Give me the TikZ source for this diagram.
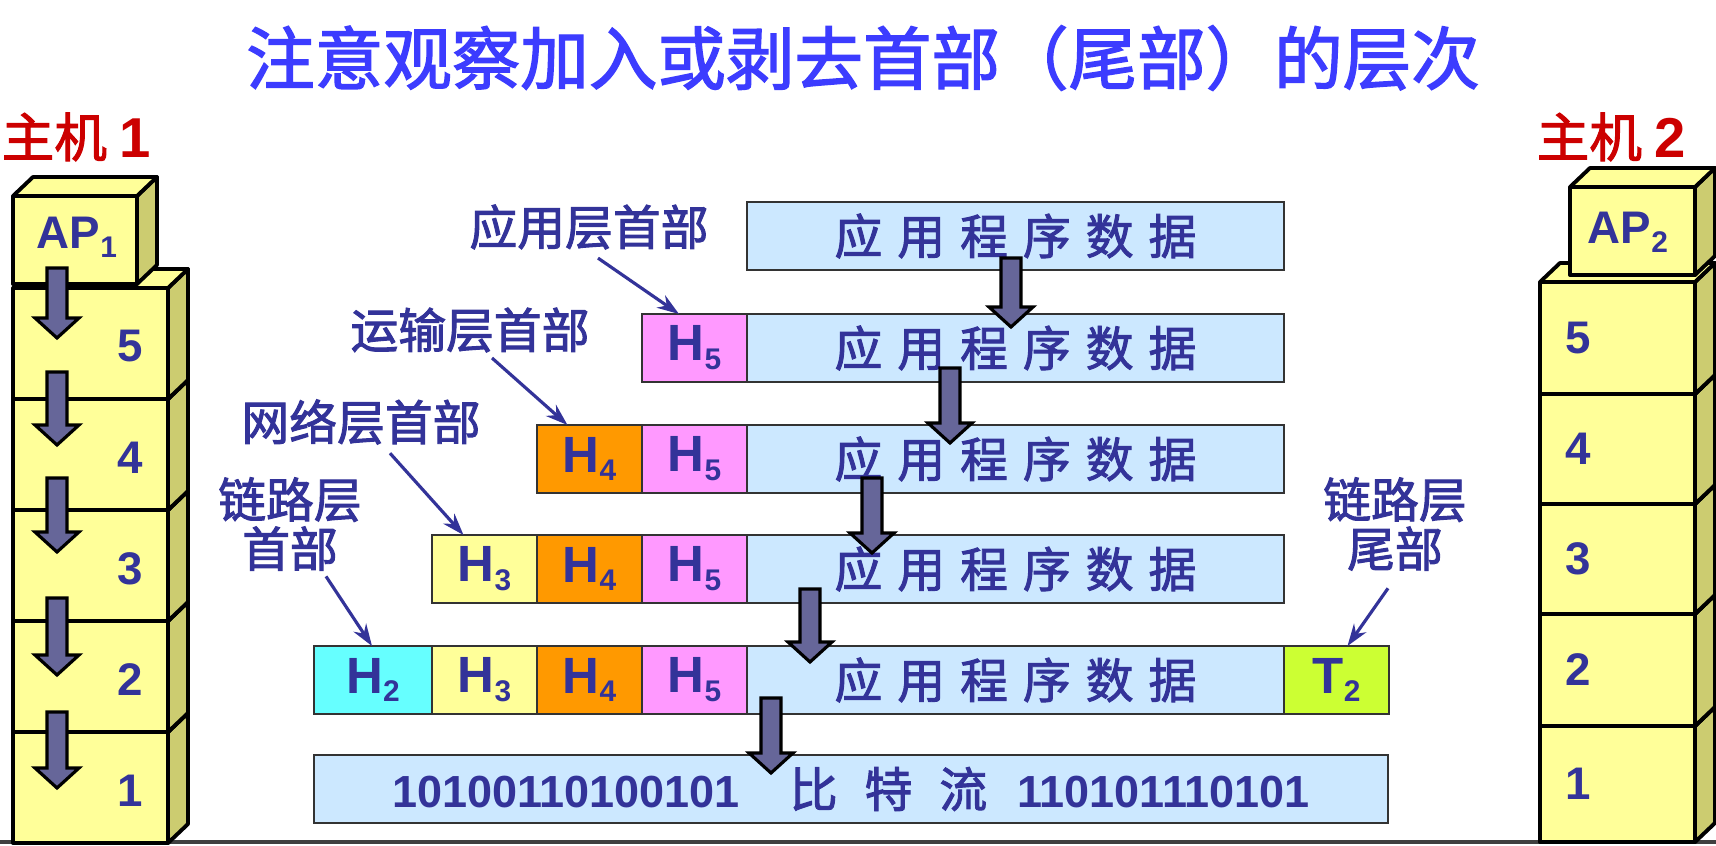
\documentclass[tikz,border=0pt]{standalone}
\usepackage{fontspec}
\setmainfont{Liberation Sans}
\newfontfamily\cjk{Noto Sans CJK SC}[AutoFakeBold=2]
\usetikzlibrary{positioning}
\usetikzlibrary{arrows.meta}
\pgfkeys{/tikz/>=Stealth}

\definecolor{txtblue}{HTML}{333399}
\definecolor{titleblue}{HTML}{3C3CFF}
\definecolor{hostred}{HTML}{CC0000}
\definecolor{arrowfill}{HTML}{666699}
\definecolor{boxyellow}{HTML}{FFFF99}
\definecolor{sideyellow}{HTML}{CCCC70}
\definecolor{datablue}{HTML}{CCE8FF}
\definecolor{hfivepink}{HTML}{FF99FF}
\definecolor{hfourorange}{HTML}{FF9900}
\definecolor{hthreeyellow}{HTML}{FFFF99}
\definecolor{htwocyan}{HTML}{66FFFF}
\definecolor{ttwogreen}{HTML}{CCFF33}

% header name with its layer number set low
\newcommand{\hdr}[2]{#1\raisebox{-2.5pt}{\fontsize{8.5pt}{9pt}\selectfont #2}}
\newcommand{\appdata}{{\cjk 应\hspace{.15cm}用\hspace{.15cm}程\hspace{.15cm}序\hspace{.15cm}数\hspace{.15cm}据}}

\tikzset{
  boxfront/.style={fill=boxyellow, draw=black, line width=1.1pt, line join=round},
  boxside/.style={fill=sideyellow, draw=black, line width=1.1pt, line join=round},
  layernum/.style={text=txtblue, font=\fontsize{13pt}{15pt}\selectfont\bfseries},
  blockarrow/.style={fill=arrowfill, draw=black, line width=0.9pt},
  lblarrow/.style={-{Stealth[length=0.22cm,width=0.15cm]}, draw=txtblue, line width=0.9pt},
}

\begin{document}
\begin{tikzpicture}[>=Stealth,
    cell/.style={draw=black!80, line width=0.8pt, inner sep=0pt, outer sep=0pt,
      minimum height=0.68cm, minimum width=1.05cm, text=txtblue,
      font=\fontsize{14.5pt}{18pt}\selectfont\bfseries},
    data/.style={cell, fill=datablue, minimum width=5.37cm,
      font=\fontsize{13.6pt}{16pt}\selectfont\bfseries},
    lbl/.style={text=txtblue, inner sep=0pt, align=center,
      font=\fontsize{13.6pt}{14pt}\selectfont\bfseries\cjk}]
  \fill[white] (0,0) rectangle (17.16,8.45);
  \useasboundingbox (0,0) rectangle (17.16,8.45);

  % title and host names
  \node[text=titleblue, font=\fontsize{19.5pt}{22pt}\selectfont\bfseries\cjk] (title) at (8.63,7.87)
    {注意观察加入或剥去首部（尾部）的层次};
  \node[text=hostred, font=\fontsize{15pt}{17pt}\selectfont\bfseries] (host1) at (0.76,7.08) {{\cjk 主机}\hspace{.12cm}\fontsize{16pt}{17pt}\selectfont 1};
  \node[text=hostred, font=\fontsize{15pt}{17pt}\selectfont\bfseries] (host2) at (16.11,7.08) {{\cjk 主机}\hspace{.12cm}\fontsize{16pt}{17pt}\selectfont 2};

  % ground line
  \draw[black!75, line width=1.2pt] (0,0.03) -- (17.16,0.03);

  % host 1: layers from the bottom up
  \foreach \lo/\hi [count=\n] in {0.02/1.13, 1.13/2.24, 2.24/3.35, 3.35/4.46, 4.46/5.57} {
    \draw[boxside] (1.68,\lo) -- (1.88,\lo+0.19) -- (1.88,\hi+0.19) -- (1.68,\hi) -- cycle;
    \draw[boxfront] (0.13,\hi) -- (0.33,\hi+0.19) -- (1.88,\hi+0.19) -- (1.68,\hi) -- cycle;
    \draw[boxfront] (0.13,\lo) rectangle (1.68,\hi);
    \node[layernum] (l\n) at (1.30,{(\lo+\hi)/2-0.03}) {\n};
  }
  \draw[boxside] (1.37,5.61) -- (1.57,5.80) -- (1.57,6.68) -- (1.37,6.49) -- cycle;
  \draw[boxfront] (0.13,6.49) -- (0.33,6.68) -- (1.57,6.68) -- (1.37,6.49) -- cycle;
  \draw[boxfront] (0.13,5.61) rectangle (1.37,6.49);
  \node[layernum] (ap1) at (0.77,6.08) {AP\raisebox{-2.5pt}{\fontsize{8.5pt}{9pt}\selectfont 1}};

  % host 2
  \foreach \lo/\hi [count=\n] in {0.03/1.19, 1.19/2.31, 2.31/3.41, 3.41/4.51, 4.51/5.63} {
    \draw[boxside] (16.95,\lo) -- (17.15,\lo+0.19) -- (17.15,\hi+0.19) -- (16.95,\hi) -- cycle;
    \draw[boxfront] (15.40,\hi) -- (15.60,\hi+0.19) -- (17.15,\hi+0.19) -- (16.95,\hi) -- cycle;
    \draw[boxfront] (15.40,\lo) rectangle (16.95,\hi);
    \node[layernum] (r\n) at (15.78,{(\lo+\hi)/2}) {\n};
  }
  \draw[boxside] (16.95,5.70) -- (17.15,5.89) -- (17.15,6.77) -- (16.95,6.58) -- cycle;
  \draw[boxfront] (15.70,6.58) -- (15.90,6.77) -- (17.15,6.77) -- (16.95,6.58) -- cycle;
  \draw[boxfront] (15.70,5.70) rectangle (16.95,6.58);
  \node[layernum] (ap2) at (16.28,6.13) {AP\raisebox{-2.5pt}{\fontsize{8.5pt}{9pt}\selectfont 2}};

  % the frames, one row per layer
  \node[data] (d1) at (10.155,6.09) {\appdata};

  \node[data] (d2) at (10.155,4.97) {\appdata};
  \node[cell, fill=hfivepink, left=0pt of d2] (r2h5) {\hdr{H}{5}};

  \node[data] (d3) at (10.155,3.86) {\appdata};
  \node[cell, fill=hfivepink, left=0pt of d3] (r3h5) {\hdr{H}{5}};
  \node[cell, fill=hfourorange, left=0pt of r3h5] (r3h4) {\hdr{H}{4}};

  \node[data] (d4) at (10.155,2.76) {\appdata};
  \node[cell, fill=hfivepink, left=0pt of d4] (r4h5) {\hdr{H}{5}};
  \node[cell, fill=hfourorange, left=0pt of r4h5] (r4h4) {\hdr{H}{4}};
  \node[cell, fill=hthreeyellow, left=0pt of r4h4] (r4h3) {\hdr{H}{3}};

  \node[data] (d5) at (10.155,1.65) {\appdata};
  \node[cell, fill=hfivepink, left=0pt of d5] (r5h5) {\hdr{H}{5}};
  \node[cell, fill=hfourorange, left=0pt of r5h5] (r5h4) {\hdr{H}{4}};
  \node[cell, fill=hthreeyellow, left=0pt of r5h4] (r5h3) {\hdr{H}{3}};
  \node[cell, fill=htwocyan, minimum width=1.18cm, left=0pt of r5h3] (r5h2) {\hdr{H}{2}};
  \node[cell, fill=ttwogreen, right=0pt of d5] (r5t2) {\hdr{T}{2}};

  \node[cell, fill=datablue, minimum width=10.74cm, font=\fontsize{12.8pt}{15pt}\selectfont\bfseries] (bits) at (8.51,0.56)
    {10100110100101\hspace{.5cm}{\fontsize{13.6pt}{15pt}\selectfont\cjk 比\hspace{.27cm}特\hspace{.27cm}流}\hspace{.3cm}110101110101};

  % down arrows: host 1 stack, then between the rows
  \foreach \x/\ya/\yb in {0.57/5.77/5.07, 0.57/4.73/4.00, 0.57/3.67/2.93, 0.57/2.47/1.70, 0.57/1.33/0.57,
                          10.11/5.87/5.18, 9.50/4.77/4.02, 8.72/3.67/2.92, 8.10/2.56/1.83, 7.71/1.47/0.72}
    \draw[blockarrow] (\x-0.1,\ya) -- (\x+0.1,\ya) -- (\x+0.1,\yb+0.2) -- (\x+0.22,\yb+0.2)
      -- (\x,\yb) -- (\x-0.22,\yb+0.2) -- (\x-0.1,\yb+0.2) -- cycle;

  % header labels
  \node[lbl] (lapp) at (5.89,6.18) {应用层首部};
  \node[lbl] (ltrans) at (4.70,5.15) {运输层首部};
  \node[lbl] (lnet) at (3.61,4.23) {网络层首部};
  \node[lbl] (llinkh) at (2.90,3.21) {链路层\\首部};
  \node[lbl] (llinkt) at (13.95,3.21) {链路层\\尾部};

  \draw[lblarrow] ([shift={(0.09,-0.08)}]lapp.south) -- ([xshift=-0.155cm]r2h5.north);
  \draw[lblarrow] ([shift={(0.22,-0.05)}]ltrans.south) -- ([xshift=-0.22cm]r3h4.north);
  \draw[lblarrow] ([shift={(0.29,-0.08)}]lnet.south) -- ([xshift=-0.21cm]r4h3.north);
  \draw[lblarrow] ([shift={(0.36,-0.05)}]llinkh.south) -- ([xshift=-0.01cm]r5h2.north);
  \draw[lblarrow] ([shift={(-0.07,-0.17)}]llinkt.south) -- ([xshift=0.11cm]r5t2.north);
\end{tikzpicture}
\end{document}
